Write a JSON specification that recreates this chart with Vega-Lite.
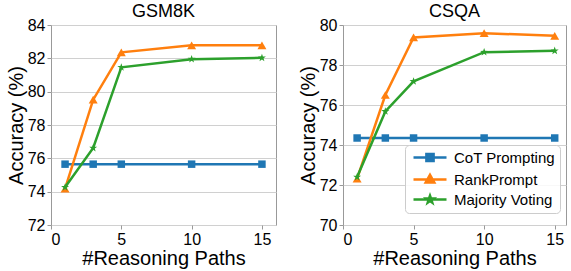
{
  "$schema": "https://vega.github.io/schema/vega-lite/v6.json",
  "background": "white",
  "padding": {"left": 5, "top": 2, "right": 5, "bottom": 2},
  "config": {
    "font": "Liberation Sans",
    "view": {"stroke": "#999", "strokeWidth": 1},
    "axis": {"domain": false, "tickColor": "#999", "tickSize": 4, "labelFontSize": 16, "labelColor": "#000", "titleFontSize": 20, "titleFontWeight": "normal", "titleColor": "#000", "labelPadding": 2, "titlePadding": 1, "gridColor": "#d0d0d0"},
    "title": {"fontSize": 18, "fontWeight": "normal", "offset": -4, "color": "#000"},
    "concat": {"spacing": 20}
  },
  "resolve": {"scale": {"color": "independent"}, "legend": {"color": "independent"}},
  "datasets": {
    "gsm": [
      {"paths": 1, "acc": 75.65, "method": "CoT Prompting"},
      {"paths": 3, "acc": 75.65, "method": "CoT Prompting"},
      {"paths": 5, "acc": 75.65, "method": "CoT Prompting"},
      {"paths": 10, "acc": 75.65, "method": "CoT Prompting"},
      {"paths": 15, "acc": 75.65, "method": "CoT Prompting"},
      {"paths": 1, "acc": 74.18, "method": "RankPrompt"},
      {"paths": 3, "acc": 79.52, "method": "RankPrompt"},
      {"paths": 5, "acc": 82.36, "method": "RankPrompt"},
      {"paths": 10, "acc": 82.78, "method": "RankPrompt"},
      {"paths": 15, "acc": 82.78, "method": "RankPrompt"},
      {"paths": 1, "acc": 74.26, "method": "Majority Voting"},
      {"paths": 3, "acc": 76.62, "method": "Majority Voting"},
      {"paths": 5, "acc": 81.46, "method": "Majority Voting"},
      {"paths": 10, "acc": 81.95, "method": "Majority Voting"},
      {"paths": 15, "acc": 82.03, "method": "Majority Voting"}
    ],
    "csqa": [
      {"paths": 1, "acc": 74.35, "method": "CoT Prompting"},
      {"paths": 3, "acc": 74.35, "method": "CoT Prompting"},
      {"paths": 5, "acc": 74.35, "method": "CoT Prompting"},
      {"paths": 10, "acc": 74.35, "method": "CoT Prompting"},
      {"paths": 15, "acc": 74.35, "method": "CoT Prompting"},
      {"paths": 1, "acc": 72.32, "method": "RankPrompt"},
      {"paths": 3, "acc": 76.5, "method": "RankPrompt"},
      {"paths": 5, "acc": 79.38, "method": "RankPrompt"},
      {"paths": 10, "acc": 79.59, "method": "RankPrompt"},
      {"paths": 15, "acc": 79.46, "method": "RankPrompt"},
      {"paths": 1, "acc": 72.4, "method": "Majority Voting"},
      {"paths": 3, "acc": 75.68, "method": "Majority Voting"},
      {"paths": 5, "acc": 77.18, "method": "Majority Voting"},
      {"paths": 10, "acc": 78.64, "method": "Majority Voting"},
      {"paths": 15, "acc": 78.71, "method": "Majority Voting"}
    ]
  },
  "hconcat": [
    {
      "width": 225, "height": 200,
      "title": "GSM8K",
      "data": {"name": "gsm"},
      "encoding": {
        "x": {"field": "paths", "type": "quantitative", "scale": {"domain": [0, 16], "nice": false, "zero": false}, "axis": {"title": "#Reasoning Paths", "values": [0, 5, 10, 15], "grid": false}},
        "y": {"field": "acc", "type": "quantitative", "scale": {"domain": [72, 84], "nice": false, "zero": false}, "axis": {"title": "Accuracy (%)", "values": [72, 74, 76, 78, 80, 82, 84], "grid": true}}
      },
      "layer": [
        {"mark": {"type": "line", "strokeWidth": 2.5},
         "encoding": {"color": {"field": "method", "type": "nominal", "scale": {"domain": ["CoT Prompting", "RankPrompt", "Majority Voting"], "range": ["#1f77b4", "#ff7f0e", "#2ca02c"]}, "legend": null}}},
        {"transform": [{"filter": "datum.method === 'CoT Prompting'"}],
         "mark": {"type": "point", "filled": true, "opacity": 1, "shape": "square", "size": 56, "color": "#1f77b4"}},
        {"transform": [{"filter": "datum.method === 'RankPrompt'"}],
         "mark": {"type": "point", "filled": true, "opacity": 1, "shape": "triangle-up", "size": 80, "color": "#ff7f0e"}},
        {"transform": [{"filter": "datum.method === 'Majority Voting'"}],
         "mark": {"type": "point", "filled": true, "opacity": 1, "shape": "M0,-1L0.235,-0.324L0.951,-0.309L0.38,0.124L0.588,0.809L0,0.4L-0.588,0.809L-0.38,0.124L-0.951,-0.309L-0.235,-0.324Z", "size": 70, "color": "#2ca02c"}}
      ]
    },
    {
      "width": 223, "height": 200,
      "title": "CSQA",
      "data": {"name": "csqa"},
      "encoding": {
        "x": {"field": "paths", "type": "quantitative", "scale": {"domain": [0, 15.8], "nice": false, "zero": false}, "axis": {"title": "#Reasoning Paths", "values": [0, 5, 10, 15], "grid": false}},
        "y": {"field": "acc", "type": "quantitative", "scale": {"domain": [70, 80], "nice": false, "zero": false}, "axis": {"title": "Accuracy (%)", "values": [70, 72, 74, 76, 78, 80], "grid": true}}
      },
      "layer": [
        {"mark": {"type": "line", "strokeWidth": 2.5},
         "encoding": {"color": {"field": "method", "type": "nominal", "scale": {"domain": ["CoT Prompting", "RankPrompt", "Majority Voting"], "range": ["#1f77b4", "#ff7f0e", "#2ca02c"]},
          "legend": {
            "orient": "none", "legendX": 62, "legendY": 120, "title": null,
            "symbolSize": 64, "symbolStrokeWidth": 2.5, "labelFontSize": 15, "labelColor": "#000", "labelOffset": 29,
            "padding": 5, "rowPadding": 2,
            "strokeColor": "#ccc", "fillColor": "rgba(255,255,255,0.85)", "cornerRadius": 4,
            "encode": {"symbols": {"update": {
              "shape": {"signal": "datum.value === 'CoT Prompting' ? 'M-1,0H7.25M2.225,-0.9H4.025V0.9H2.225Z' : datum.value === 'RankPrompt' ? 'M-1,0H7.25M3.125,-1.15L4.2,0.75H2.05Z' : 'M-1,0H7.25M3.125,-0.95L3.348,-0.307L4.028,-0.294L3.486,0.117L3.684,0.769L3.125,0.38L2.566,0.769L2.764,0.117L2.222,-0.294L2.902,-0.307Z'"},
              "fill": {"signal": "datum.value === 'CoT Prompting' ? '#1f77b4' : datum.value === 'RankPrompt' ? '#ff7f0e' : '#2ca02c'"},
              "fillOpacity": {"value": 1}
            }}}
          }}}},
        {"transform": [{"filter": "datum.method === 'CoT Prompting'"}],
         "mark": {"type": "point", "filled": true, "opacity": 1, "shape": "square", "size": 56, "color": "#1f77b4"}},
        {"transform": [{"filter": "datum.method === 'RankPrompt'"}],
         "mark": {"type": "point", "filled": true, "opacity": 1, "shape": "triangle-up", "size": 80, "color": "#ff7f0e"}},
        {"transform": [{"filter": "datum.method === 'Majority Voting'"}],
         "mark": {"type": "point", "filled": true, "opacity": 1, "shape": "M0,-1L0.235,-0.324L0.951,-0.309L0.38,0.124L0.588,0.809L0,0.4L-0.588,0.809L-0.38,0.124L-0.951,-0.309L-0.235,-0.324Z", "size": 70, "color": "#2ca02c"}}
      ]
    }
  ]
}
